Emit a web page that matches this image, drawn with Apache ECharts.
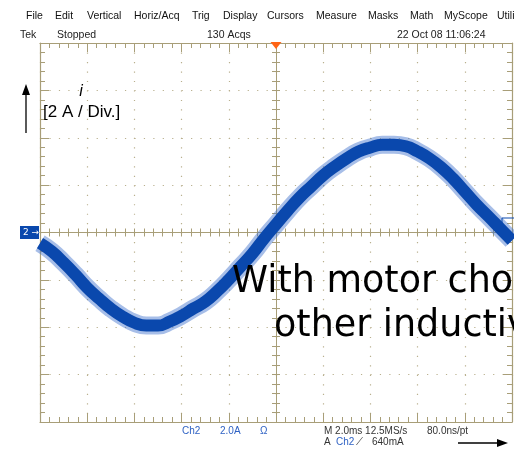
<!DOCTYPE html>
<html>
<head>
<meta charset="utf-8">
<script src="https://cdn.jsdelivr.net/npm/echarts@6/dist/echarts.min.js"></script>
<style>
  html, body { margin: 0; padding: 0; background: #ffffff; }
  #scope { width: 514px; height: 449px; }
</style>
</head>
<body>
<div id="scope"></div>
<script>
// Time base: 2 ms/div, 10 divisions
const timeMs = [0, 0.5, 1, 1.5, 2, 2.5, 3, 3.5, 4, 4.5, 5, 5.5, 6, 6.5, 7, 7.5, 8, 8.5, 9, 9.5,
                10, 10.5, 11, 11.5, 12, 12.5, 13, 13.5, 14, 14.5, 15, 15.5, 16, 16.5, 17, 17.5,
                18, 18.5, 19, 19.5, 20];
// Channel 2 current (A), 2 A/div
const currentA = [-0.45, -0.80, -1.27, -1.78, -2.33, -2.79, -3.21, -3.55, -3.81, -3.93,
                  -3.93, -3.76, -3.51, -3.21, -2.92, -2.49, -1.99, -1.44, -0.89, -0.25,
                  0.34, 0.93, 1.48, 1.95, 2.41, 2.79, 3.13, 3.42, 3.59, 3.70,
                  3.70, 3.64, 3.42, 3.13, 2.75, 2.28, 1.73, 1.18, 0.68, 0.17, -0.34];

const menuItems = ['File', 'Edit', 'Vertical', 'Horiz/Acq', 'Trig', 'Display', 'Cursors',
                   'Measure', 'Masks', 'Math', 'MyScope', 'Utili'];
const statusItems = ['Tek', 'Stopped', '130 Acqs', '22 Oct 08 11:06:24'];

const menuX = [26, 55, 87, 134, 192, 223, 267, 316, 368, 410, 444, 497];
const statusX = [20, 57, 207, 397];

const TAN = '#a89e78';
const DOT = '#b9b08e';
const BLUE = '#0a48ad';
const LBLUE = '#2f62c4';

const chart = echarts.init(document.getElementById('scope'), null, { renderer: 'canvas' });

const gridRect = { left: 40, top: 43, width: 472, height: 379 };

function borderAxis(gridIndex, position, min, max, interval, dash) {
  return {
    gridIndex, type: 'value', position, min, max, interval,
    axisLine: { show: true, onZero: false, lineStyle: { color: TAN, width: 1.2 } },
    axisTick: { show: true, inside: true, length: 9, lineStyle: { color: TAN, width: 1 } },
    minorTick: { show: true, splitNumber: 5, length: 5, lineStyle: { color: TAN, width: 1 } },
    axisLabel: { show: false },
    splitLine: dash ? { show: true, lineStyle: { color: DOT, width: 1.2, type: dash } } : { show: false },
    minorSplitLine: { show: false }
  };
}
function centerAxis(gridIndex, position, min, max, interval) {
  return {
    gridIndex, type: 'value', position, min, max, interval,
    axisLine: { show: true, onZero: true, lineStyle: { color: TAN, width: 1 } },
    axisTick: { show: true, inside: true, length: 4, lineStyle: { color: TAN, width: 1 } },
    minorTick: { show: true, splitNumber: 5, length: 4, lineStyle: { color: TAN, width: 1 } },
    axisLabel: { show: false },
    splitLine: { show: false }
  };
}

const graphics = [];
menuItems.forEach((t, i) => {
  graphics.push({ type: 'text', x: menuX[i], y: 16, z: 50,
    style: { text: t, fill: '#111', font: '10.5px "Liberation Sans", Arial, sans-serif', textVerticalAlign: 'middle' } });
});
statusItems.forEach((t, i) => {
  graphics.push({ type: 'text', x: statusX[i], y: 35, z: 50,
    style: { text: t, fill: '#222', font: '10.5px "Liberation Sans", Arial, sans-serif', textVerticalAlign: 'middle' } });
});

// trigger position marker
graphics.push({ type: 'polygon', z: 50, shape: { points: [[270.5, 42], [281.5, 42], [276, 49]] }, style: { fill: '#ff6414' } });
// channel 2 ground marker
graphics.push({ type: 'rect', z: 50, shape: { x: 20, y: 226, width: 19, height: 13 }, style: { fill: BLUE } });
graphics.push({ type: 'text', x: 23, y: 233, z: 51,
  style: { text: '2 →', fill: '#fff', font: '9px "DejaVu Sans", sans-serif', textVerticalAlign: 'middle' } });
// trigger level marker at right edge
graphics.push({ type: 'polyline', z: 50, shape: { points: [[514, 218], [502, 218], [502, 226]] }, style: { stroke: BLUE, lineWidth: 1 } });

// annotation: current axis
graphics.push({ type: 'text', x: 81, y: 92, z: 50,
  style: { text: 'i', fill: '#000', font: 'italic 16px "Liberation Sans", Arial, sans-serif', textAlign: 'center', textVerticalAlign: 'middle' } });
graphics.push({ type: 'text', x: 43, y: 112, z: 50,
  style: { text: '[2 A / Div.]', fill: '#000', font: '17px "Liberation Sans", Arial, sans-serif', textVerticalAlign: 'middle' } });
graphics.push({ type: 'line', z: 50, shape: { x1: 26, y1: 133, x2: 26, y2: 92 }, style: { stroke: '#000', lineWidth: 1.3 } });
graphics.push({ type: 'polygon', z: 50, shape: { points: [[22, 95], [30, 95], [26, 84]] }, style: { fill: '#000' } });

// annotation: time axis
graphics.push({ type: 'line', z: 50, shape: { x1: 458, y1: 443, x2: 500, y2: 443 }, style: { stroke: '#000', lineWidth: 1.3 } });
graphics.push({ type: 'polygon', z: 50, shape: { points: [[497, 439], [497, 447], [508, 443]] }, style: { fill: '#000' } });

// overlay caption
graphics.push({ type: 'text', x: 232, y: 283, z: 60,
  style: { text: 'With motor choke', fill: '#000', font: '36.5px "DejaVu Sans", sans-serif', textVerticalAlign: 'middle' } });
graphics.push({ type: 'text', x: 274, y: 327, z: 60,
  style: { text: 'other inductive', fill: '#000', font: '36.5px "DejaVu Sans", sans-serif', textVerticalAlign: 'middle' } });

// readout line
const readFont = '10px "Liberation Sans", Arial, sans-serif';
const readouts = [
  ['Ch2', 182, 431, LBLUE], ['2.0A', 220, 431, LBLUE], ['Ω', 260, 431, LBLUE],
  ['M 2.0ms 12.5MS/s', 324, 431, '#333'], ['80.0ns/pt', 427, 431, '#333'],
  ['A', 324, 442, '#333'], ['Ch2', 336, 442, LBLUE], ['⟋', 356, 442, '#333'], ['640mA', 372, 442, '#333']
];
readouts.forEach(r => {
  graphics.push({ type: 'text', x: r[1], y: r[2], z: 50,
    style: { text: r[0], fill: r[3], font: readFont, textVerticalAlign: 'middle' } });
});

const option = {
  backgroundColor: '#ffffff',
  animation: false,
  grid: [
    Object.assign({}, gridRect),
    Object.assign({}, gridRect),
    Object.assign({}, gridRect)
  ],
  xAxis: [
    borderAxis(0, 'bottom', 0, 20, 2, [1.2, 8.28]),
    borderAxis(0, 'top', 0, 20, 2, null),
    centerAxis(1, 'bottom', -10, 10, 2),
    centerAxis(2, 'top', -10, 10, 2)
  ],
  yAxis: [
    borderAxis(0, 'left', -8, 8, 2, [1.2, 8.24]),
    borderAxis(0, 'right', -8, 8, 2, null),
    centerAxis(1, 'left', -8, 8, 2),
    centerAxis(2, 'right', -8, 8, 2)
  ],
  series: [
    {
      name: 'Ch2 envelope', type: 'line', xAxisIndex: 0, yAxisIndex: 0,
      data: timeMs.map((t, i) => [t, currentA[i]]),
      smooth: true, symbol: 'none', clip: true, z: 3,
      lineStyle: { color: 'rgba(60,110,205,0.45)', width: 18 }
    },
    {
      name: 'Ch2', type: 'line', xAxisIndex: 0, yAxisIndex: 0,
      data: timeMs.map((t, i) => [t, currentA[i]]),
      smooth: true, symbol: 'none', clip: true, z: 4,
      lineStyle: { color: BLUE, width: 12 }
    }
  ],
  graphic: graphics
};

chart.setOption(option);
</script>
</body>
</html>
